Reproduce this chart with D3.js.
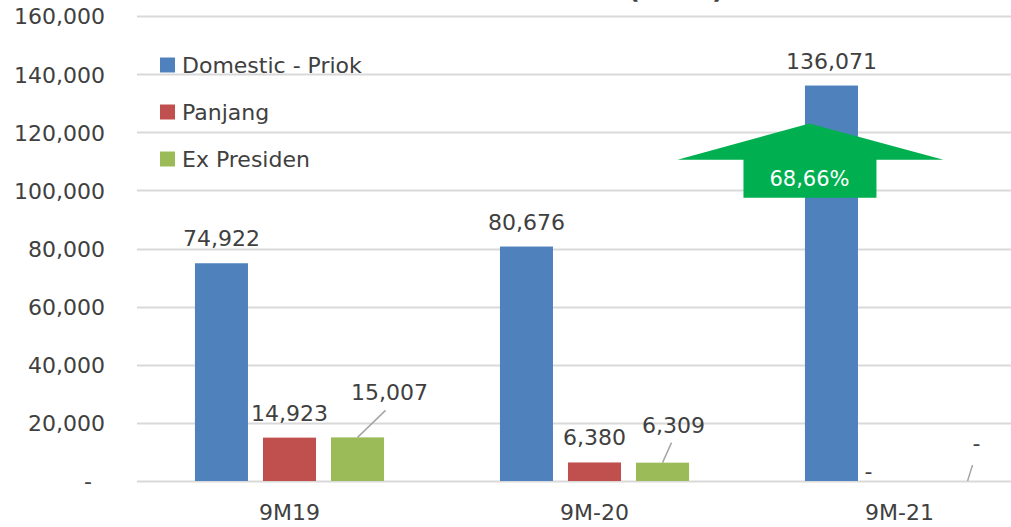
<!DOCTYPE html>
<html>
<head>
<meta charset="utf-8">
<script src="https://cdn.jsdelivr.net/npm/d3@7/dist/d3.min.js"></script>
<style>
  html, body { margin: 0; padding: 0; background: #fff; }
  svg { display: block; font-family: "DejaVu Sans", sans-serif; }
</style>
</head>
<body>
<svg id="chart" width="1011" height="527"></svg>
<script>
// Throughput by period and terminal
const periods = ["9M19", "9M-20", "9M-21"];
const seriesNames = ["Domestic - Priok", "Panjang", "Ex Presiden"];
const domesticPriok = [74922, 80676, 136071];
const panjang = [14923, 6380, 0];
const exPresiden = [15007, 6309, 0];
const yTicks = [0, 20000, 40000, 60000, 80000, 100000, 120000, 140000, 160000];
const growthLabel = "68,66%";

const colors = ["#4F81BD", "#C0504D", "#9BBB59"];
const textColor = "#404040";
const series = [domesticPriok, panjang, exPresiden];

const svg = d3.select("#chart");
const W = 1011, H = 527;
const plot = { left: 137, right: 1052, top: 16, bottom: 481 };

const x = d3.scaleBand().domain(periods).range([plot.left, plot.right]).paddingInner(0.38).paddingOuter(0.19);
const xs = d3.scaleBand().domain(seriesNames).range([0, x.bandwidth()]).paddingInner(15 / 68);
const y = d3.scaleLinear().domain([0, 160000]).range([plot.bottom, plot.top]);

const fmt = v => v === 0 ? "-" : d3.format(",")(v);

// Title, running off the top edge
svg.append("text")
  .attr("x", 676).attr("y", -2)
  .attr("text-anchor", "middle")
  .attr("font-size", 26).attr("font-weight", "bold")
  .attr("fill", textColor)
  .text("(TEUs)");

// Gridlines
svg.append("g").selectAll("line").data(yTicks).join("line")
  .attr("x1", plot.left).attr("x2", W)
  .attr("y1", d => Math.round(y(d)) + 0.5).attr("y2", d => Math.round(y(d)) + 0.5)
  .attr("stroke", "#d9d9d9").attr("stroke-width", 2);

// Y axis labels
const yAxis = d3.axisLeft(y).tickValues(yTicks).tickSize(0).tickPadding(0).tickFormat(fmt);
const gy = svg.append("g").attr("transform", "translate(105,0)").call(yAxis);
gy.select(".domain").remove();
gy.selectAll("text")
  .attr("font-size", 22).attr("fill", textColor)
  .attr("font-family", "DejaVu Sans, sans-serif")
  .attr("dy", "0.36em")
  .attr("x", d => d === 0 ? -13 : 0);

// X axis labels
const xAxis = d3.axisBottom(x).tickSize(0).tickPadding(0);
const gx = svg.append("g").attr("transform", `translate(0,${plot.bottom})`).call(xAxis);
gx.select(".domain").remove();
gx.selectAll("text")
  .attr("font-size", 22).attr("fill", textColor)
  .attr("font-family", "DejaVu Sans, sans-serif")
  .attr("dy", null).attr("y", 39);

// Bars
const flat = [];
periods.forEach((p, i) => {
  seriesNames.forEach((s, j) => flat.push({ period: p, name: s, value: series[j][i], j }));
});

svg.append("g").selectAll("rect").data(flat).join("rect")
  .attr("x", d => x(d.period) + xs(d.name))
  .attr("y", d => y(d.value))
  .attr("width", xs.bandwidth())
  .attr("height", d => y(0) - y(d.value))
  .attr("fill", d => colors[d.j]);

// Data labels; a few are moved aside, some with a leader line
// dx/dy: label offset from the bar-top centre; lx/ly: end of the leader line
const nudges = {
  "9M19|Ex Presiden": { dx: 32, dy: -37, lx: 28, ly: -27 },
  "9M-20|Ex Presiden": { dx: 11, dy: -30, lx: 9, ly: -20 },
  "9M-21|Panjang": { dx: -31, dy: -2 },
  "9M-21|Ex Presiden": { dx: 9, dy: -30, lx: 5, ly: -16 }
};

const labels = svg.append("g");
flat.forEach(d => {
  const cx = x(d.period) + xs(d.name) + xs.bandwidth() / 2;
  const top = y(d.value);
  const n = nudges[d.period + "|" + d.name];
  let lx = cx, ly = top - 17;
  if (n) {
    lx = cx + n.dx; ly = top + n.dy;
    if (n.lx !== undefined) {
      labels.append("line")
        .attr("x1", cx).attr("y1", top)
        .attr("x2", cx + n.lx).attr("y2", top + n.ly)
        .attr("stroke", "#a6a6a6").attr("stroke-width", 1.5);
    }
  }
  labels.append("text")
    .attr("x", lx).attr("y", ly)
    .attr("text-anchor", "middle")
    .attr("font-size", 22).attr("fill", textColor)
    .text(fmt(d.value));
});

// Legend
const legend = svg.append("g").attr("transform", "translate(160,65)");
seriesNames.forEach((s, j) => {
  const g = legend.append("g").attr("transform", `translate(0,${j * 47})`);
  g.append("rect").attr("x", 0).attr("y", -7.5).attr("width", 15).attr("height", 15).attr("fill", colors[j]);
  g.append("text").attr("x", 22).attr("y", 0).attr("dy", "0.36em")
    .attr("font-size", 22).attr("fill", textColor).text(s);
});

// Growth arrow over the latest period
const ax = x("9M-21") + xs("Domestic - Priok") + xs.bandwidth() / 2 - 22;
const tipY = y(123000), wingY = y(110500), baseY = y(97500);
const arrow = d3.path();
arrow.moveTo(ax, tipY);
arrow.lineTo(ax + 134, wingY);
arrow.lineTo(ax + 67, wingY);
arrow.lineTo(ax + 67, baseY);
arrow.lineTo(ax - 66, baseY);
arrow.lineTo(ax - 66, wingY);
arrow.lineTo(ax - 132, wingY);
arrow.closePath();
svg.append("path").attr("d", arrow.toString()).attr("fill", "#00B050");
svg.append("text")
  .attr("x", ax).attr("y", (wingY + baseY) / 2).attr("dy", "0.36em")
  .attr("text-anchor", "middle").attr("font-size", 21).attr("fill", "#fff")
  .text(growthLabel);
</script>
</body>
</html>
